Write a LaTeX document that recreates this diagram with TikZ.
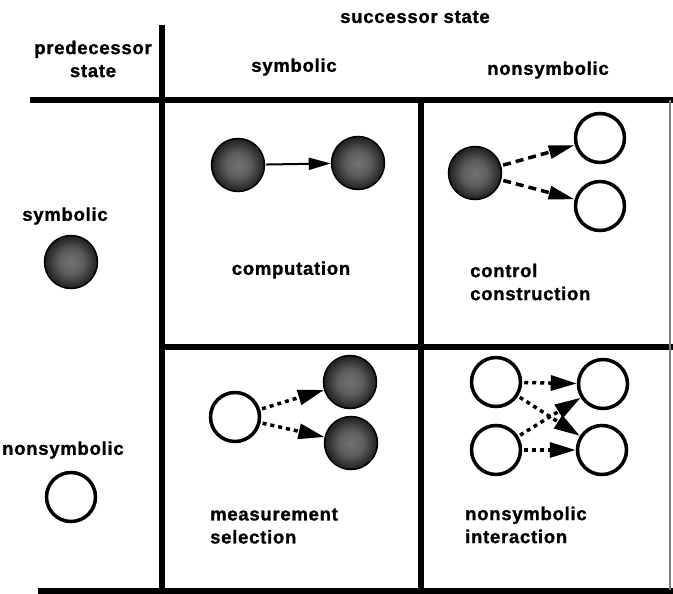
\documentclass[tikz,border=0pt]{standalone}
\usepackage{fontspec}
\newfontfamily\lab{Liberation Sans}[LetterSpace=4, BoldFeatures={FakeBold=1.2}]
\usetikzlibrary{arrows.meta}
\pgfdeclareradialshading{ballshade}{\pgfpoint{0bp}{0bp}}{color(0bp)=(black!55); color(12bp)=(black!64); color(24bp)=(black!86); color(34bp)=(black); color(50bp)=(black)}
\tikzset{
  rule/.style={line width=6pt},
  txt/.style={inner sep=0pt, font=\lab\bfseries\fontsize{18.5}{23}\selectfont, align=left},
  symb/.style={circle, minimum size=53pt, inner sep=0pt, shading=ballshade, draw=black, line width=1.5pt},
  nsym/.style={circle, minimum size=49pt, inner sep=0pt, fill=white, draw=black, line width=3.5pt},
  sarrow/.style={line width=2pt, shorten <=1pt, -{Triangle[length=22pt,width=12pt]}},
  dasharrow/.style={line width=3.5pt, dash pattern=on 8pt off 5pt, shorten <=2pt, -{Triangle[length=26pt,width=13pt]}},
  dotarrow/.style={line width=3.5pt, dash pattern=on 4pt off 4pt, shorten <=2pt, -{Triangle[length=26pt,width=15pt]}}
}
\begin{document}
\begin{tikzpicture}[x=1pt,y=-1pt]
\useasboundingbox (0,0) rectangle (673,594);
% grid
\draw[rule] (30,100) -- (673,100);
\draw[rule] (162,25) -- (162,594);
\draw[rule] (421,100) -- (421,590);
\draw[rule] (162,347) -- (673,347);
\draw[rule] (38,591) -- (673,591);
\draw[line width=1.2pt, black!50] (670,100) -- (670,590);
% headers
\node[txt] (succ) at (415,17) {successor state};
\node[txt, align=center] (pred) at (93,59) {predecessor\\state};
\node[txt] (hsym) at (294,67) {symbolic};
\node[txt] (hnsym) at (548,70) {nonsymbolic};
% row headers
\node[txt] (rsym) at (65,216) {symbolic};
\node[symb] (rsymc) at (71,262) {};
\node[txt, anchor=west] (rnsym) at (2,450) {nonsymbolic};
\node[nsym] (rnsymc) at (71,497) {};
% cell 1: computation
\node[symb] (c1a) at (238,165) {};
\node[symb] (c1b) at (358,163) {};
\draw[sarrow] (c1a) -- (c1b);
\node[txt] (comp) at (291,270) {computation};
% cell 2: control construction
\node[symb] (c2a) at (475,173) {};
\node[nsym] (c2b) at (600,138) {};
\node[nsym] (c2c) at (600,206) {};
\draw[dasharrow] (c2a) -- (c2b);
\draw[dasharrow] (c2a) -- (c2c);
\node[txt, anchor=west] (ctrl) at (470,282) {control\\construction};
% cell 3: measurement selection
\node[nsym] (c3a) at (235,417) {};
\node[symb] (c3b) at (350,382) {};
\node[symb] (c3c) at (351,443) {};
\draw[dotarrow] (c3a) -- (c3b);
\draw[dotarrow] (c3a) -- (c3c);
\node[txt, anchor=west] (meas) at (210,526) {measurement\\selection};
% cell 4: nonsymbolic interaction
\node[nsym] (c4a) at (496,382) {};
\node[nsym] (c4b) at (603,384) {};
\node[nsym] (c4c) at (496,450) {};
\node[nsym] (c4d) at (602,450) {};
\draw[dotarrow] (c4a) -- (c4b);
\draw[dotarrow] (c4c) -- (c4d);
\draw[dotarrow] (c4a) -- (c4d);
\draw[dotarrow] (c4c) -- (c4b);
\node[txt, anchor=west] (inter) at (465,525) {nonsymbolic\\interaction};
\end{tikzpicture}
\end{document}
